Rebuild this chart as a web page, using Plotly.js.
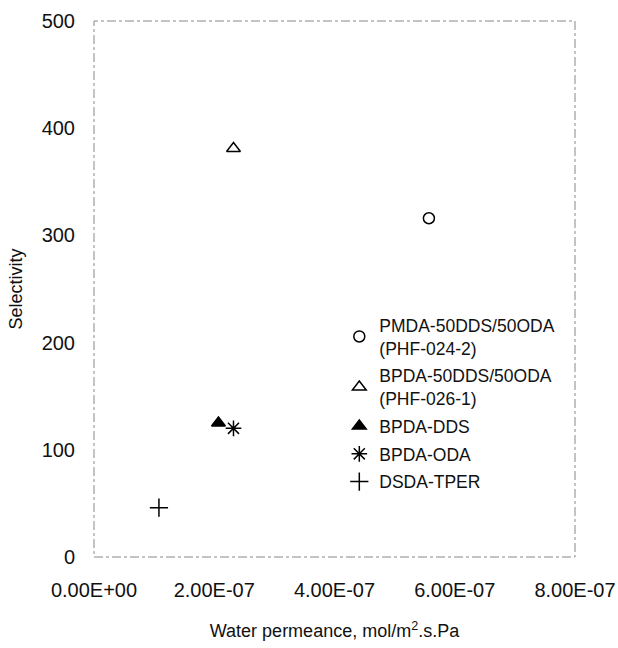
<!DOCTYPE html>
<html>
<head>
<meta charset="utf-8">
<script src="https://cdn.plot.ly/plotly-3.0.1.min.js"></script>
<style>html,body{margin:0;padding:0;background:#fff;}#chart{width:618px;height:648px;}</style>
</head>
<body>
<div id="chart"></div>
<script>
const seriesNames = ["PMDA-50DDS/50ODA<br>(PHF-024-2)", "BPDA-50DDS/50ODA<br>(PHF-026-1)", "BPDA-DDS", "BPDA-ODA", "DSDA-TPER"];
const permeance = [5.57e-7, 2.32e-7, 2.07e-7, 2.32e-7, 1.08e-7];
const selectivity = [316, 381, 125, 120, 46];
const symbols = ["circle-open", "triangle-up-open", "triangle-up", "asterisk-open", "cross-thin-open"];
const sizes = [11, 12, 12, 13, 13];
const xTicks = [0, 2e-7, 4e-7, 6e-7, 8e-7];
const xTickText = ["0.00E+00", "2.00E-07", "4.00E-07", "6.00E-07", "8.00E-07"];
const yTicks = [0, 100, 200, 300, 400, 500];

const traces = seriesNames.map((n, i) => ({
  type: "scatter", mode: "markers", name: n,
  legendgroup: "g" + i,
  x: [permeance[i]], y: [selectivity[i]],
  marker: {symbol: symbols[i], size: sizes[i], color: "#000", line: {color: "#000", width: 1.5}}
}));

const fam = "Liberation Sans, Arial, sans-serif";
Plotly.newPlot("chart", traces, {
  width: 618, height: 648,
  margin: {l: 94, r: 43, t: 21, b: 91},
  paper_bgcolor: "#fff", plot_bgcolor: "#fff",
  font: {family: fam, size: 20, color: "#111"},
  showlegend: true,
  legend: {x: 0.51, y: 0.466, xanchor: "left", yanchor: "top", bgcolor: "rgba(0,0,0,0)",
           font: {family: fam, size: 17.5, color: "#111"}, itemwidth: 30, tracegroupgap: 2},
  xaxis: {range: [0, 8e-7], tickvals: xTicks, ticktext: xTickText, showgrid: false, zeroline: false,
          showline: false, ticks: "", ticklabelstandoff: 19,
          title: {text: "Water permeance, mol/m<sup>2</sup>.s.Pa", standoff: 24, font: {family: fam, size: 18}}},
  yaxis: {range: [0, 500], tickvals: yTicks, showgrid: false, zeroline: false, showline: false, ticks: "",
          ticklabelstandoff: 18,
          title: {text: "Selectivity", standoff: 14, font: {family: fam, size: 18}}},
  shapes: [{type: "rect", xref: "paper", yref: "paper", x0: 0, x1: 1, y0: 0, y1: 1,
            line: {color: "#888", width: 1, dash: "dashdot"}}]
}, {displayModeBar: false, staticPlot: true});
</script>
</body>
</html>
